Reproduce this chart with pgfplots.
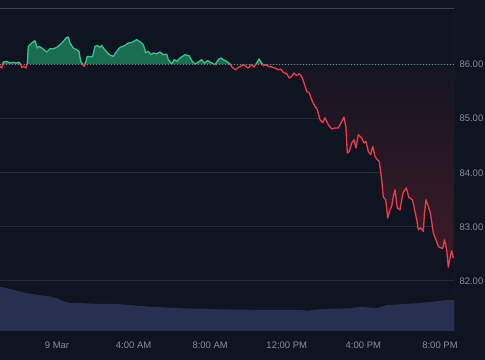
\documentclass[border=0pt]{standalone}
\usepackage{pgfplots}
\pgfplotsset{compat=1.18}
\usepackage{pgfplotstable}
\usepackage{fontspec}
\setmainfont{Liberation Sans}
\definecolor{bg}{HTML}{0F1421}
\definecolor{vol}{HTML}{283052}
\definecolor{gridc}{HTML}{252A36}
\definecolor{axc}{HTML}{3D424E}
\definecolor{labc}{HTML}{888D99}
\definecolor{upline}{HTML}{2BC98C}
\definecolor{upfill}{HTML}{1B6D51}
\definecolor{dnline}{HTML}{EE3B4B}
\definecolor{dnfill}{HTML}{3E1B28}
\definecolor{basec}{HTML}{7D828D}

\pgfplotstableread{
x y
0 85.969
1.7 85.939
3.3 86.050
6.7 86.061
10 86.031
13 86.043
16.7 86.031
19 86.046
20.5 86.013
21.7 85.950
24 85.969
26 85.939
27.3 86.031
28.3 86.339
31.7 86.402
35 86.444
37.3 86.309
39.3 86.339
42.7 86.296
46.7 86.235
50 86.296
53.3 86.296
56.7 86.320
60 86.370
63.3 86.431
66 86.494
68.3 86.515
70 86.402
73.3 86.309
76.7 86.278
79 86.246
80.7 86.061
82.7 86.013
84 85.969
85.7 86.050
87.3 86.154
90 86.143
92.7 86.154
95 86.339
97.3 86.357
100 86.320
101.7 86.357
104 86.296
106.7 86.235
109.3 86.185
113.3 86.154
116.7 86.246
120 86.320
125 86.357
128.3 86.402
131.7 86.413
134 86.435
136.7 86.463
140 86.426
143.3 86.370
145.7 86.222
148.3 86.246
151 86.185
153.3 86.217
156.7 86.204
160 86.235
163.3 86.185
166.7 86.194
168.3 86.093
170 86.056
171.7 86.013
174.3 86.093
176.7 86.061
180 86.124
185 86.185
189 86.167
192.3 86.061
195 86.013
198.3 86.050
201.7 86.093
204.3 86.031
207.7 86.074
210 86.050
215 86.000
218.3 86.093
221 86.124
223.3 86.093
226.7 86.061
230 86.013
232.3 85.950
235.7 85.907
238.3 85.950
240 85.963
243.3 86.000
246 85.969
248.3 85.939
251.7 86.000
254 85.957
256.7 86.031
259 86.106
261.7 86.031
263.3 85.981
266 86.000
268.3 85.969
271.7 85.957
275 85.939
278.3 85.907
281 85.917
283.3 85.857
286.7 85.833
289.3 85.754
291.7 85.783
294 85.846
296.7 85.796
299.3 85.833
301.7 85.783
304 85.661
306.7 85.506
309.3 85.476
311.7 85.352
314 85.259
317.3 85.167
320 84.981
322.7 84.926
325 85.019
328.3 84.889
331.7 84.809
335 84.828
338.3 84.828
341.7 84.950
344 85.031
346 84.828
347.3 84.365
349.3 84.394
351.7 84.550
354 84.611
356 84.457
358.3 84.704
361.7 84.643
364 84.550
366 84.580
368.3 84.394
370.7 84.333
372.7 84.487
375 84.302
377.3 84.241
379.3 84.209
381.7 83.870
383.3 83.550
385.7 83.500
387.7 83.161
390 83.315
391.7 83.376
393.3 83.556
395 83.685
397.3 83.346
400 83.315
403 83.624
406.3 83.717
408.8 83.546
412.5 83.500
416.7 83.130
418.3 82.944
420.7 82.981
423.3 82.913
424.5 83.259
426 83.500
428.8 83.346
430.5 83.241
433.3 82.883
436 82.759
438.5 82.630
440.5 82.611
442.7 82.602
444.5 82.759
446.7 82.574
448.3 82.250
450 82.420
451.7 82.556
453.3 82.420
}\price

\pgfplotstableread{
x v
0 44.3
10 42
20 39.3
33 36.7
50 34.5
57 32.5
63.3 29.8
70 28
83 27.8
100 27
117 27
133 25.6
150 24.3
183 22.7
217 21.7
267 21
300 21
307 20.3
320 21.7
350 22.7
360 24.3
377 22.7
387 26
417 27.7
433 29.3
447 31
454 31
}\volume

\begin{document}
\begin{tikzpicture}
\path[use as bounding box] (0,0) rectangle (485bp,360bp);
\fill[bg] (0,0) rectangle (485bp,360bp);
\clip (0,0) rectangle (485bp,360bp);
\begin{axis}[at={(0bp,29bp)}, anchor=south west, width=454bp, height=323bp,
  scale only axis, xmin=0, xmax=454, ymin=0, ymax=323, hide axis]
\addplot[draw=none, fill=vol] table[x=x,y=v]{\volume} \closedcycle;
\end{axis}
\begin{axis}[at={(0bp,29bp)}, anchor=south west, width=454bp, height=323bp,
  scale only axis, xmin=0, xmax=454, ymin=81.07, ymax=87.05,
  axis line style={draw=none},
  ytick={82,83,84,85,86}, yticklabel pos=right,
  xtick={57,133.6,210.2,286.8,363.4,440},
  xticklabels={9 Mar,4:00 AM,8:00 AM,12:00 PM,4:00 PM,8:00 PM},
  major tick length=0pt,
  ymajorgrids, grid style={gridc, line width=0.8bp},
  ticklabel style={font=\fontsize{9.5bp}{11bp}\selectfont, text=labc},
  /pgf/number format/assume math mode=true,
  yticklabel style={/pgf/number format/fixed, /pgf/number format/fixed zerofill,
    /pgf/number format/precision=2, anchor=west, xshift=2bp},
  xticklabel style={anchor=base, yshift=-17.4bp},
]
\begin{scope}
\clip (axis cs:0,86) rectangle (axis cs:454,87.05);
\addplot[draw=none, fill=upfill] table[x=x,y=y]{\price} -- (axis cs:454,86) -- (axis cs:0,86) -- cycle;
\end{scope}
\begin{scope}
\clip (axis cs:0,81.07) rectangle (axis cs:454,86);
\addplot[draw=none, top color=bg, bottom color=dnfill] table[x=x,y=y]{\price} -- (axis cs:454,86) -- (axis cs:0,86) -- cycle;
\end{scope}
\addplot[basec, line width=0.9bp, dash pattern=on 1bp off 2bp] coordinates {(0,86) (454,86)};
\begin{scope}
\clip (axis cs:0,86) rectangle (axis cs:454,87.05);
\addplot[upline, line width=1.3bp, line join=round] table[x=x,y=y]{\price};
\end{scope}
\begin{scope}
\clip (axis cs:0,81.07) rectangle (axis cs:454,86);
\addplot[dnline, line width=1.3bp, line join=round] table[x=x,y=y]{\price};
\end{scope}
\draw[axc, line width=0.8bp] (rel axis cs:0,1) -- (rel axis cs:1,1) -- (rel axis cs:1,0);
\end{axis}
\end{tikzpicture}
\end{document}
